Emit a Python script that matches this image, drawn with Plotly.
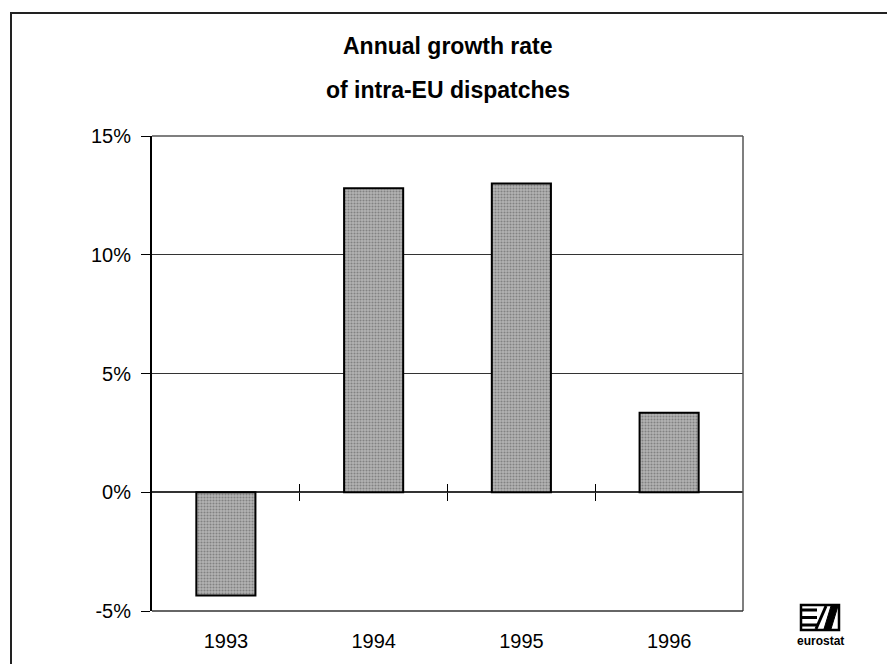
import plotly.graph_objects as go

# Annual growth rate of intra-EU dispatches (%)
years = ["1993", "1994", "1995", "1996"]
growth = [-4.35, 12.8, 13.0, 3.35]

y_ticks = [-5, 0, 5, 10, 15]
y_tick_text = ["-5%", "0%", "5%", "10%", "15%"]
y_range = [-5, 15]

title_lines = ["Annual growth rate", "of intra-EU dispatches"]

W, H = 887, 664
L, R, T, B = 152, 144, 136, 53
plot_w, plot_h = W - L - R, H - T - B


def px(x):
    """Figure pixel column -> paper x."""
    return (x - L) / plot_w


def py(y):
    """Figure pixel row -> paper y."""
    return (H - B - y) / plot_h


font_family = "Liberation Sans, Arial, sans-serif"
zero_pos = (0 - y_range[0]) / (y_range[1] - y_range[0])
n = len(years)
boundaries = [i + 0.5 for i in range(n - 1)]

fig = go.Figure()

fig.add_trace(go.Bar(
    x=years,
    y=growth,
    width=0.4,
    marker=dict(
        color="#a0a0a0",
        line=dict(color="black", width=2),
        pattern=dict(shape=".", bgcolor="#b4b4b4", fgcolor="#505050",
                     size=3, solidity=0.4),
    ),
    showlegend=False,
    hoverinfo="x+y",
))

# helper traces so the boundary-tick axes on the zero line get drawn
for ax in ("x2", "x3"):
    fig.add_trace(go.Scatter(x=[None], y=[None], xaxis=ax, yaxis="y",
                             showlegend=False, hoverinfo="skip"))

shapes = [
    # outer frame (only left and top edges fall inside the page)
    dict(type="rect", xref="paper", yref="paper",
         x0=px(11), x1=px(W + 40), y0=py(13), y1=py(H + 40),
         line=dict(color="#222", width=2), layer="below"),
    # plot frame: top, right, bottom
    dict(type="line", xref="paper", yref="paper", x0=0, x1=1, y0=1, y1=1,
         line=dict(color="#555", width=1.5)),
    dict(type="line", xref="paper", yref="paper", x0=1, x1=1, y0=0, y1=1,
         line=dict(color="#555", width=1.5)),
    dict(type="line", xref="paper", yref="paper", x0=0, x1=1, y0=0, y1=0,
         line=dict(color="#333", width=1.5)),
]

# eurostat logo: framed "E/S" mark
lx0, lx1, ly0, ly1 = 801, 839, 605, 630
shapes.append(dict(type="rect", xref="paper", yref="paper",
                   x0=px(lx0), x1=px(lx1), y0=py(ly1), y1=py(ly0),
                   line=dict(color="black", width=2.5), fillcolor="white"))
for yy in (610, 617.5, 625):
    shapes.append(dict(type="line", xref="paper", yref="paper",
                       x0=px(lx0 + 1), x1=px(817), y0=py(yy), y1=py(yy),
                       line=dict(color="black", width=3)))
shapes.append(dict(type="line", xref="paper", yref="paper",
                   x0=px(816), x1=px(826), y0=py(629), y1=py(606),
                   line=dict(color="black", width=3)))
shapes.append(dict(type="path", xref="paper", yref="paper",
                   path=(f"M {px(824)},{py(629)} L {px(831)},{py(629)} "
                         f"L {px(838)},{py(606)} L {px(831)},{py(606)} Z"),
                   fillcolor="black", line=dict(color="black", width=1)))

# two title lines, spaced wider than the default line height
annotations = [
    dict(text=f"<b>{line}</b>", xref="paper", yref="paper",
         x=0.5, y=py(yc), xanchor="center", yanchor="middle",
         showarrow=False,
         font=dict(family=font_family, size=23, color="black"))
    for line, yc in zip(title_lines, (46, 90))
]
annotations.append(dict(text="<b>eurostat</b>", xref="paper", yref="paper",
                        x=px(820), y=py(641), xanchor="center",
                        yanchor="middle", showarrow=False,
                        font=dict(family=font_family, size=12,
                                  color="black")))

tick_font = dict(family=font_family, size=20, color="black")

fig.update_layout(
    width=W, height=H,
    margin=dict(l=L, r=R, t=T, b=B),
    paper_bgcolor="white",
    plot_bgcolor="white",
    bargap=0.6,
    shapes=shapes,
    annotations=annotations,
    xaxis=dict(
        type="category",
        categoryorder="array", categoryarray=years,
        range=[-0.5, n - 0.5],
        showline=False, showgrid=False, zeroline=False,
        ticks="", tickfont=tick_font, ticklabelstandoff=16,
    ),
    xaxis2=dict(
        overlaying="x", anchor="free", position=zero_pos, side="bottom",
        range=[-0.5, n - 0.5], tickmode="array", tickvals=boundaries,
        ticks="outside", ticklen=8, tickwidth=1.2, tickcolor="black",
        showticklabels=False, showline=False, showgrid=False, zeroline=False,
    ),
    xaxis3=dict(
        overlaying="x", anchor="free", position=zero_pos, side="bottom",
        range=[-0.5, n - 0.5], tickmode="array", tickvals=boundaries,
        ticks="inside", ticklen=8, tickwidth=1.2, tickcolor="black",
        showticklabels=False, showline=False, showgrid=False, zeroline=False,
    ),
    yaxis=dict(
        range=y_range,
        tickmode="array", tickvals=y_ticks, ticktext=y_tick_text,
        ticks="outside", ticklen=9, tickwidth=1.2, tickcolor="black",
        showline=True, linecolor="black", linewidth=2,
        showgrid=True, gridcolor="#333", gridwidth=1,
        zeroline=True, zerolinecolor="#333", zerolinewidth=1.5,
        tickfont=tick_font, ticklabelstandoff=6,
    ),
)

fig.write_html("out.html")
